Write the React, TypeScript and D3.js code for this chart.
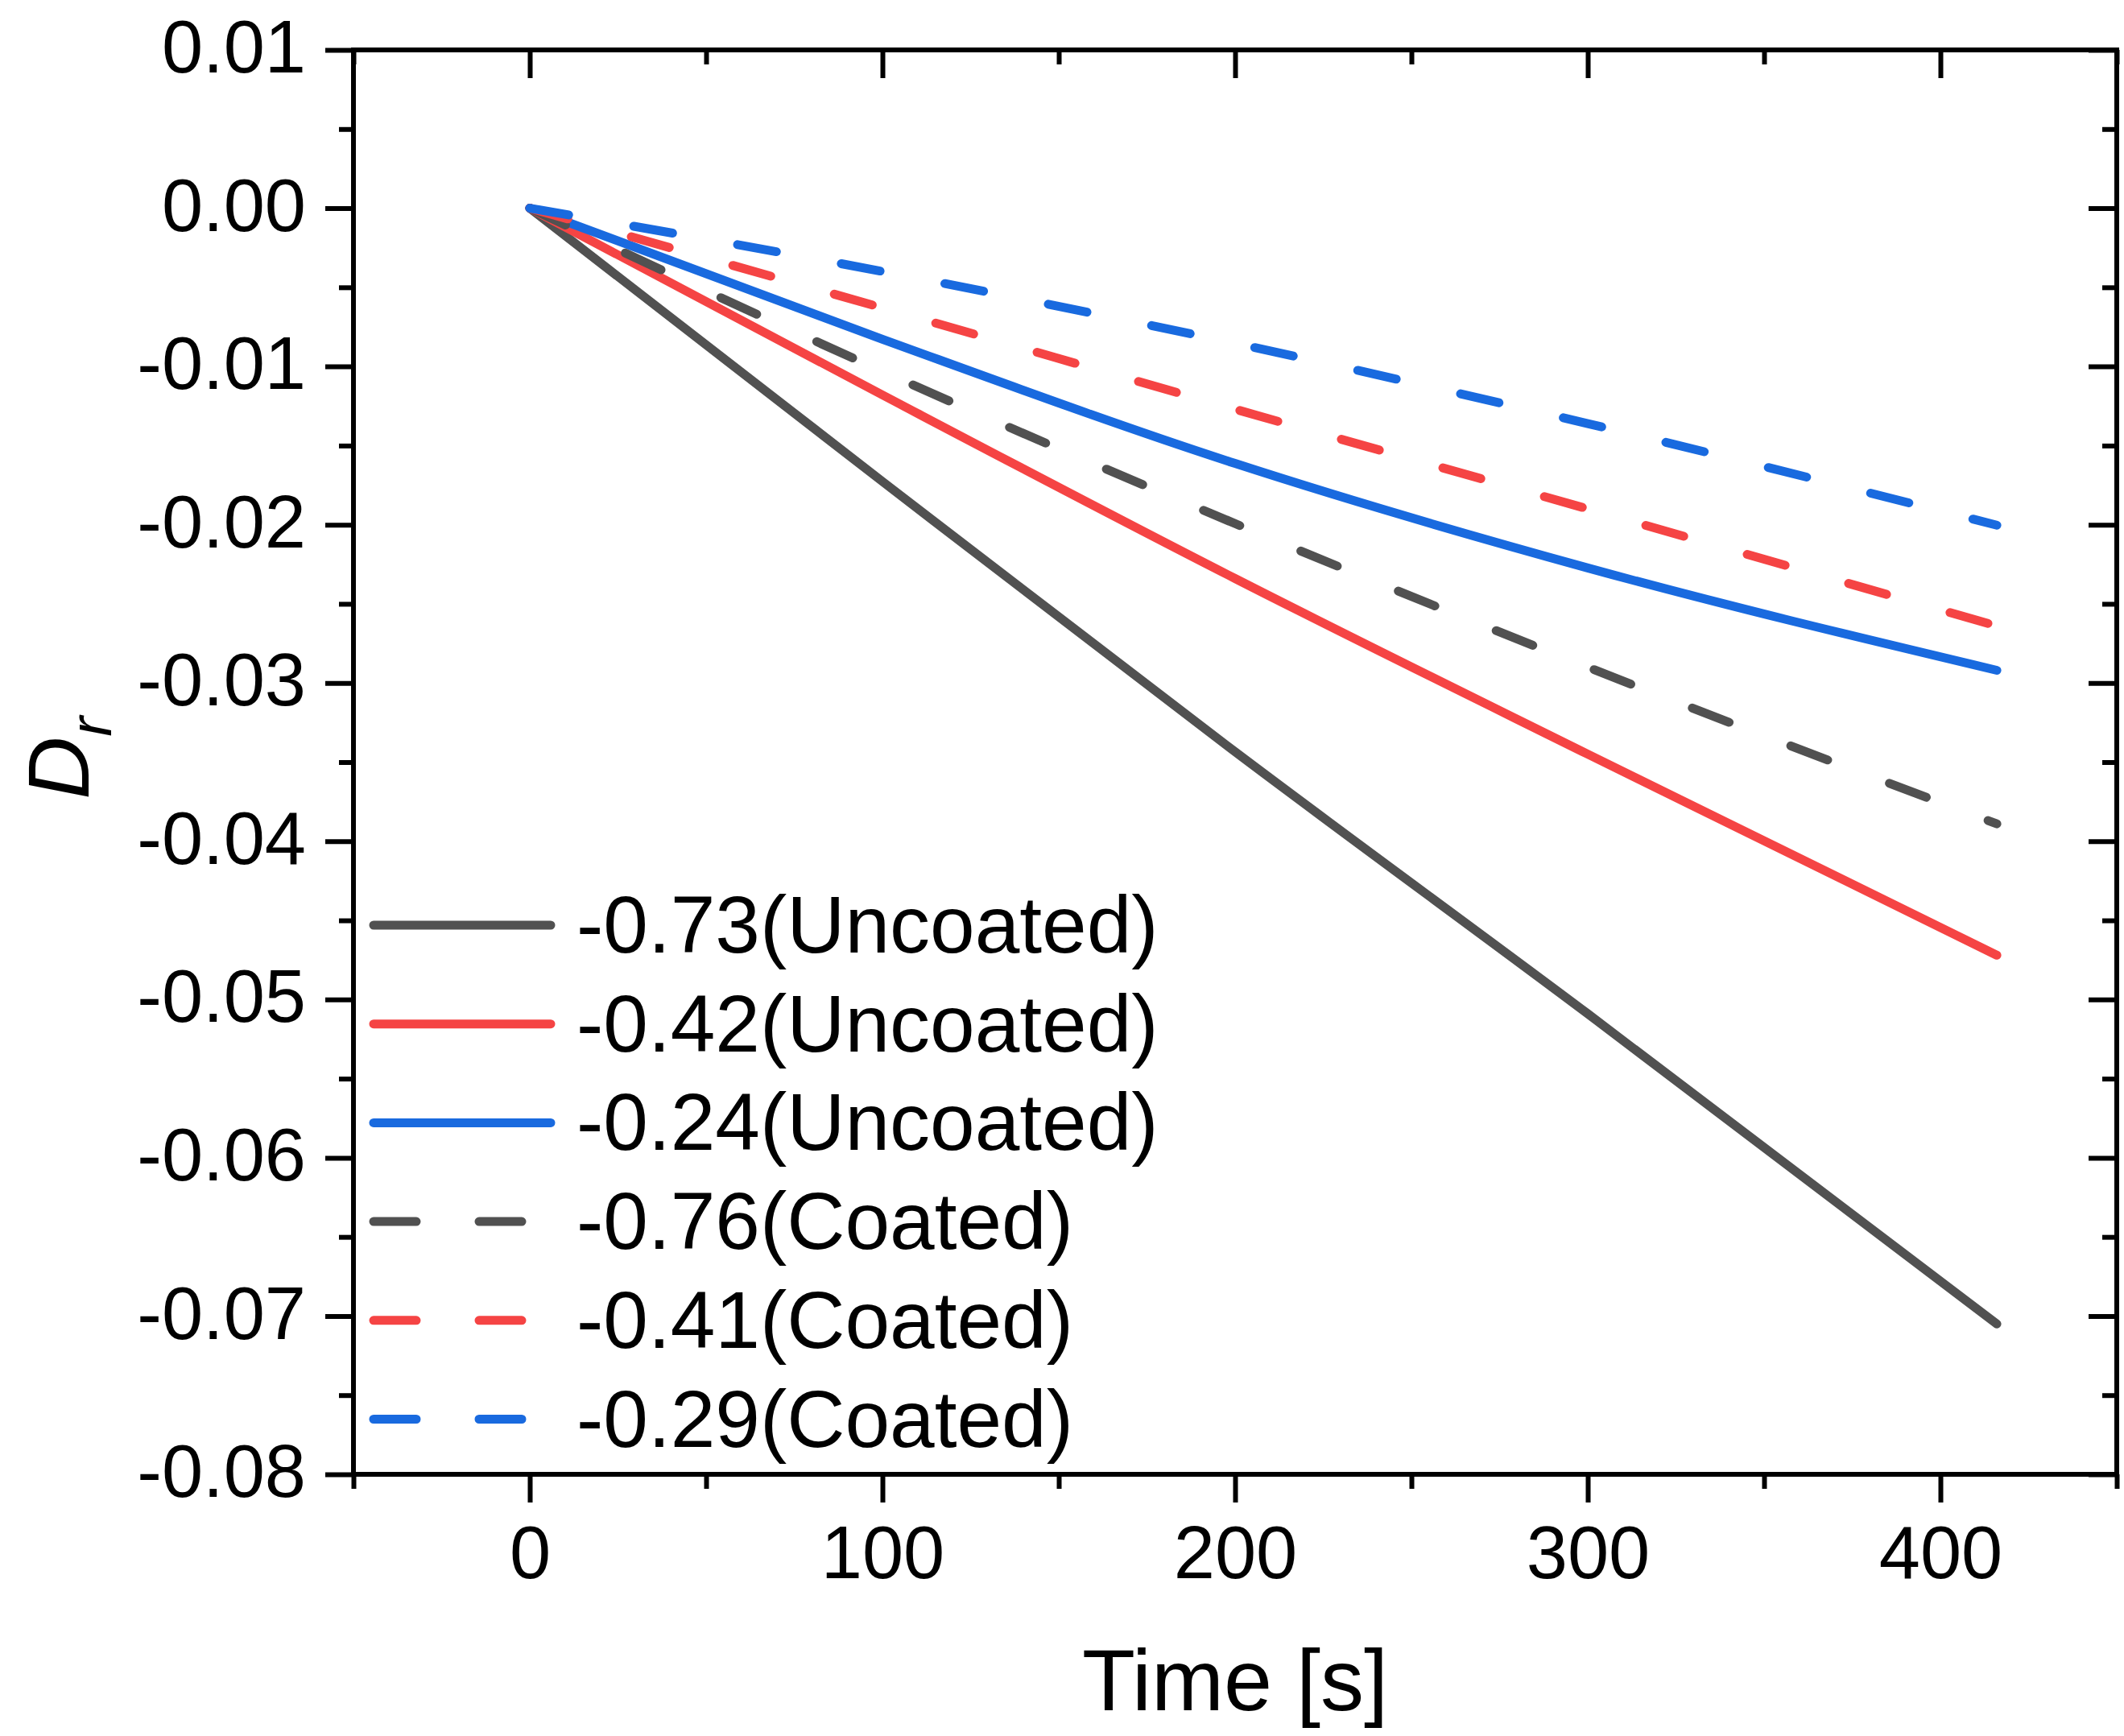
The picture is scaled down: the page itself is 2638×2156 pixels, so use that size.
import { useEffect, useRef } from "react";
import * as d3 from "d3";

// sample times [s]
const time = [0, 100, 200, 300, 416];

// D_r values
const uncoated073 = [0, -0.01727, -0.03435, -0.0509, -0.0705];
const uncoated042 = [0, -0.0118, -0.0234, -0.0345, -0.0472];
const uncoated024 = [0, -0.00828, -0.01613, -0.02273, -0.0292];
const coated076 = [0, -0.01031, -0.01993, -0.029, -0.0389];
const coated041 = [0, -0.0063, -0.0127, -0.019, -0.0264];
const coated029 = [0, -0.004, -0.00854, -0.01361, -0.02003];

const seriesLabels = [
  "-0.73(Uncoated)",
  "-0.42(Uncoated)",
  "-0.24(Uncoated)",
  "-0.76(Coated)",
  "-0.41(Coated)",
  "-0.29(Coated)",
];

const xMajor = [0, 100, 200, 300, 400];
const xMinor = [-50, 50, 150, 250, 350, 450];
const yMajor = [0.01, 0, -0.01, -0.02, -0.03, -0.04, -0.05, -0.06, -0.07, -0.08];
const yMinor = [0.005, -0.005, -0.015, -0.025, -0.035, -0.045, -0.055, -0.065, -0.075];

const GRAY = "#515151";
const RED = "#F54444";
const BLUE = "#196ADF";

const series = [
  { label: seriesLabels[0], values: uncoated073, color: GRAY, dashed: false },
  { label: seriesLabels[1], values: uncoated042, color: RED, dashed: false },
  { label: seriesLabels[2], values: uncoated024, color: BLUE, dashed: false },
  { label: seriesLabels[3], values: coated076, color: GRAY, dashed: true },
  { label: seriesLabels[4], values: coated041, color: RED, dashed: true },
  { label: seriesLabels[5], values: coated029, color: BLUE, dashed: true },
];

const FONT = "'Liberation Sans', Arial, sans-serif";

export default function App() {
  const ref = useRef<SVGSVGElement | null>(null);

  useEffect(() => {
    if (!ref.current) return;
    const svg = d3.select(ref.current);
    svg.selectAll("*").remove();

    const width = 2638;
    const height = 2156;
    const margin = { top: 62, right: 9, bottom: 325, left: 439 };
    const major = 35;
    const minor = 18;

    const x = d3
      .scaleLinear()
      .domain([-50, 450])
      .range([margin.left, width - margin.right]);
    const y = d3
      .scaleLinear()
      .domain([-0.08, 0.01])
      .range([height - margin.bottom, margin.top]);

    svg.append("rect").attr("width", width).attr("height", height).attr("fill", "#fff");

    // MARK: data lines
    const line = d3
      .line<number>()
      .x((_, i) => x(time[i]))
      .y((d) => y(d))
      .curve(d3.curveMonotoneX);

    const plot = svg.append("g");
    series.forEach((s) => {
      plot
        .append("path")
        .attr("d", line(s.values) || "")
        .attr("fill", "none")
        .attr("stroke", s.color)
        .attr("stroke-width", 11)
        .attr("stroke-linecap", "round")
        .attr("stroke-linejoin", "round")
        .attr("stroke-dasharray", s.dashed ? "49 82" : null);
    });

    // MARK: axes
    const styleAxis = (g: d3.Selection<SVGGElement, unknown, null, undefined>) => {
      g.select(".domain").remove();
      g.selectAll(".tick line").attr("stroke", "#000").attr("stroke-width", 6);
      g.selectAll(".tick text")
        .attr("fill", "#000")
        .style("font-family", FONT)
        .style("font-size", "92px");
    };

    const bottom = height - margin.bottom;
    const right = width - margin.right;

    svg
      .append("g")
      .attr("transform", `translate(0,${bottom})`)
      .call(
        d3.axisBottom(x).tickValues(xMajor).tickSize(major).tickPadding(29).tickFormat((d) => String(d))
      )
      .call(styleAxis)
      .selectAll(".tick text")
      .attr("dy", "0.71em");
    svg
      .append("g")
      .attr("transform", `translate(0,${bottom})`)
      .call(d3.axisBottom(x).tickValues(xMinor).tickSize(minor).tickFormat(() => ""))
      .call(styleAxis);

    svg
      .append("g")
      .attr("transform", `translate(${margin.left},0)`)
      .call(
        d3
          .axisLeft(y)
          .tickValues(yMajor)
          .tickSize(major)
          .tickPadding(24)
          .tickFormat((d) => (+d).toFixed(2).replace("-0.00", "0.00"))
      )
      .call(styleAxis)
      .selectAll(".tick text")
      .attr("dy", "0.30em");
    svg
      .append("g")
      .attr("transform", `translate(${margin.left},0)`)
      .call(d3.axisLeft(y).tickValues(yMinor).tickSize(minor).tickFormat(() => ""))
      .call(styleAxis);

    // top and right: ticks pointing inward, no labels
    svg
      .append("g")
      .attr("transform", `translate(0,${margin.top})`)
      .call(d3.axisTop(x).tickValues(xMajor).tickSize(-major).tickFormat(() => ""))
      .call(styleAxis);
    svg
      .append("g")
      .attr("transform", `translate(0,${margin.top})`)
      .call(d3.axisTop(x).tickValues(xMinor).tickSize(-minor).tickFormat(() => ""))
      .call(styleAxis);
    svg
      .append("g")
      .attr("transform", `translate(${right},0)`)
      .call(d3.axisRight(y).tickValues(yMajor).tickSize(-major).tickFormat(() => ""))
      .call(styleAxis);
    svg
      .append("g")
      .attr("transform", `translate(${right},0)`)
      .call(d3.axisRight(y).tickValues(yMinor).tickSize(-minor).tickFormat(() => ""))
      .call(styleAxis);

    // frame
    svg
      .append("rect")
      .attr("x", margin.left)
      .attr("y", margin.top)
      .attr("width", right - margin.left)
      .attr("height", bottom - margin.top)
      .attr("fill", "none")
      .attr("stroke", "#000")
      .attr("stroke-width", 6);

    // MARK: axis titles
    svg
      .append("text")
      .attr("x", (margin.left + right) / 2)
      .attr("y", 2124)
      .attr("text-anchor", "middle")
      .style("font-family", FONT)
      .style("font-size", "108px")
      .text("Time [s]");

    const yTitle = svg
      .append("text")
      .attr("transform", `translate(110,${(margin.top + bottom) / 2 - 5}) rotate(-90)`)
      .attr("text-anchor", "middle")
      .style("font-family", FONT)
      .style("font-style", "italic");
    yTitle.append("tspan").style("font-size", "108px").text("D");
    yTitle.append("tspan").attr("dy", 28).style("font-size", "74px").text("r");

    // MARK: legend
    const legend = svg.append("g");
    series.forEach((s, i) => {
      const ly = 1149 + i * 122.7;
      legend
        .append("line")
        .attr("x1", 464)
        .attr("x2", 684)
        .attr("y1", ly)
        .attr("y2", ly)
        .attr("stroke", s.color)
        .attr("stroke-width", 11)
        .attr("stroke-linecap", "round")
        .attr("stroke-dasharray", s.dashed ? "53 78" : null);
      legend
        .append("text")
        .attr("x", 716)
        .attr("y", ly + 34)
        .style("font-family", FONT)
        .style("font-size", "100px")
        .text(s.label);
    });
  }, []);

  return (
    <svg
      ref={ref}
      width={2638}
      height={2156}
      style={{ position: "absolute", left: 0, top: 0 }}
    />
  );
}
